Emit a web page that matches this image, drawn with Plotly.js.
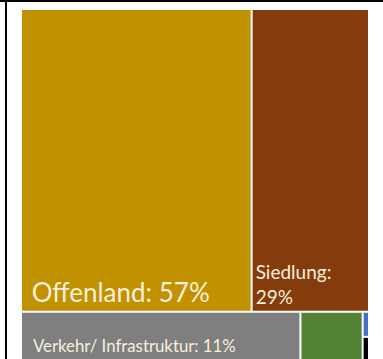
<!DOCTYPE html>
<html><head><meta charset="utf-8">
<script src="https://cdn.plot.ly/plotly-3.0.1.min.js"></script>
<style>
html,body{margin:0;padding:0;background:#fff;overflow:hidden}
#wrap{position:relative;width:383px;height:359px}
#chart{position:absolute;left:0;top:0;width:383px;height:359px}
.frame-top{position:absolute;left:0;top:0;width:383px;height:2px;background:#000}
.frame-left{position:absolute;left:5px;top:0;width:2px;height:359px;background:#000}
</style></head><body>
<div id="wrap"><div id="chart"></div><div class="frame-top"></div><div class="frame-left"></div></div>
<script>
// Leaf categories (Flächennutzung)
const categories = ['Offenland', 'Siedlung', 'Verkehr/ Infrastruktur', 'Wald', 'Wasser', 'Sonstige'];
const shares = [57, 29, 11, 2.45, 0.13, 0.12];
const labelTexts = ['\u00a0Offenland: 57%', 'Siedlung:<br>29%', '\u00a0\u00a0Verkehr/ Infrastruktur: 11%', '', '', ''];
const colors = ['#C29100', '#843C0C', '#7F7F7F', '#548235', '#4472C4', '#000000'];
const fontSizes = [26, 19, 16.8, 10, 10, 10];
// grouping used only to reproduce the tile arrangement
const groupOf = ['top', 'top', 'bottom', 'bottom', 'bottom-right', 'bottom-right'];
const groupIds = ['root', 'top', 'bottom', 'bottom-right'];
const groupParents = ['', 'root', 'root', 'bottom'];

const ids = groupIds.concat(categories);
const parents = groupParents.concat(groupOf);
const values = groupIds.map(() => 0).concat(shares);
const text = groupIds.map(() => '').concat(labelTexts);
const markerColors = groupIds.map(() => '#ffffff').concat(colors);
const sizes = groupIds.map(() => 10).concat(fontSizes);
const txtColors = groupIds.map(() => '#ffffff').concat(categories.map(() => '#F7F0DC'));

const trace = {
  type: 'treemap',
  ids: ids,
  labels: ids.map(() => ''),
  parents: parents,
  values: values,
  text: text,
  texttemplate: '%{text}',
  textposition: 'bottom left',
  textfont: {family: 'Lato, "Open Sans", sans-serif', size: sizes, color: txtColors},
  insidetextfont: {family: 'Lato, "Open Sans", sans-serif', size: sizes, color: txtColors},
  marker: {colors: markerColors, line: {width: 0}, pad: {t: 0, l: 0, r: 0, b: 0}},
  tiling: {packing: 'dice-slice', pad: 2},
  pathbar: {visible: false},
  sort: true,
  hoverinfo: 'skip'
};

Plotly.newPlot('chart', [trace], {
  width: 383, height: 359,
  margin: {l: 22, r: 15, t: 10, b: 0},
  paper_bgcolor: '#ffffff',
  showlegend: false
}, {displayModeBar: false, staticPlot: true});
</script>
</body></html>
